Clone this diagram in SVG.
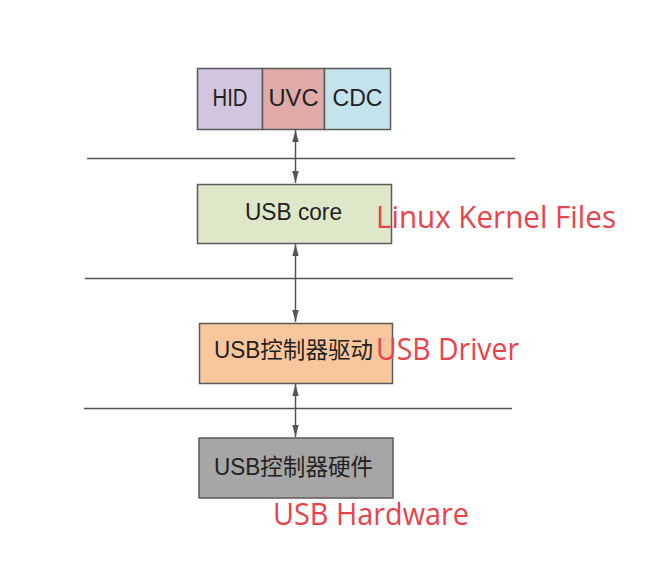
<svg xmlns="http://www.w3.org/2000/svg" width="646" height="572" viewBox="0 0 646 572">
<style>
.box{stroke:#5a5a5a;stroke-width:1.5}
.t{font-family:"Liberation Sans","Noto Sans CJK SC",Arial,sans-serif;fill:#222;text-anchor:middle}
.sep{stroke:#555;stroke-width:1.3}
.con{stroke:#555;stroke-width:1.5;fill:none;marker-start:url(#ah);marker-end:url(#ah)}
.red{font-family:"Open Sans","Noto Sans",sans-serif;fill:#e8434b;font-size:31px}
</style>
<defs>
<marker id="ah" viewBox="0 0 12 8" refX="12" refY="4" markerWidth="12" markerHeight="8" markerUnits="userSpaceOnUse" orient="auto-start-reverse">
<path d="M0,0.8 L12,4 L0,7.2 Z" fill="#555"/>
</marker>
</defs>
<rect width="646" height="572" fill="#fff"/>
<g id="separators">
<line class="sep" x1="87" y1="158.5" x2="515" y2="158.5"/>
<line class="sep" x1="85" y1="278.5" x2="513" y2="278.5"/>
<line class="sep" x1="84" y1="408.5" x2="512" y2="408.5"/>
</g>
<g id="connectors">
<line class="con" x1="295.5" y1="130" x2="295.5" y2="183"/>
<line class="con" x1="295.5" y1="244" x2="295.5" y2="322"/>
<line class="con" x1="295.5" y1="384" x2="295.5" y2="437"/>
</g>
<g id="hid">
<rect class="box" x="197.5" y="68.5" width="65" height="61" fill="#d2c5df"/>
<text class="t" x="230" y="106" font-size="23" textLength="35" lengthAdjust="spacingAndGlyphs">HID</text>
</g>
<g id="uvc">
<rect class="box" x="262.5" y="68.5" width="62" height="61" fill="#e0aaa9"/>
<text class="t" x="293.5" y="106" font-size="23" textLength="50" lengthAdjust="spacingAndGlyphs">UVC</text>
</g>
<g id="cdc">
<rect class="box" x="324.5" y="68.5" width="66" height="61" fill="#c4e3ec"/>
<text class="t" x="357.5" y="106" font-size="23" textLength="50" lengthAdjust="spacingAndGlyphs">CDC</text>
</g>
<g id="usb-core">
<rect class="box" x="197.5" y="184.5" width="194" height="59" fill="#dfe7c9"/>
<text class="t" x="293.5" y="220" font-size="24" textLength="97" lengthAdjust="spacingAndGlyphs">USB core</text>
</g>
<g id="usb-driver">
<rect class="box" x="199.5" y="323.5" width="193" height="60" fill="#f9c79d"/>
<text class="t" x="293.5" y="358" font-size="23" textLength="159" lengthAdjust="spacingAndGlyphs">USB控制器驱动</text>
</g>
<g id="usb-hardware">
<rect class="box" x="199" y="438" width="194" height="60" fill="#a6a6a6"/>
<text class="t" x="293.5" y="475" font-size="23" textLength="159" lengthAdjust="spacingAndGlyphs">USB控制器硬件</text>
</g>
<g id="labels">
<text class="red" x="376" y="228" textLength="240" lengthAdjust="spacingAndGlyphs">Linux Kernel Files</text>
<text class="red" x="376" y="360" textLength="143" lengthAdjust="spacingAndGlyphs">USB Driver</text>
<text class="red" x="273" y="525" textLength="196" lengthAdjust="spacingAndGlyphs">USB Hardware</text>
</g>
</svg>
